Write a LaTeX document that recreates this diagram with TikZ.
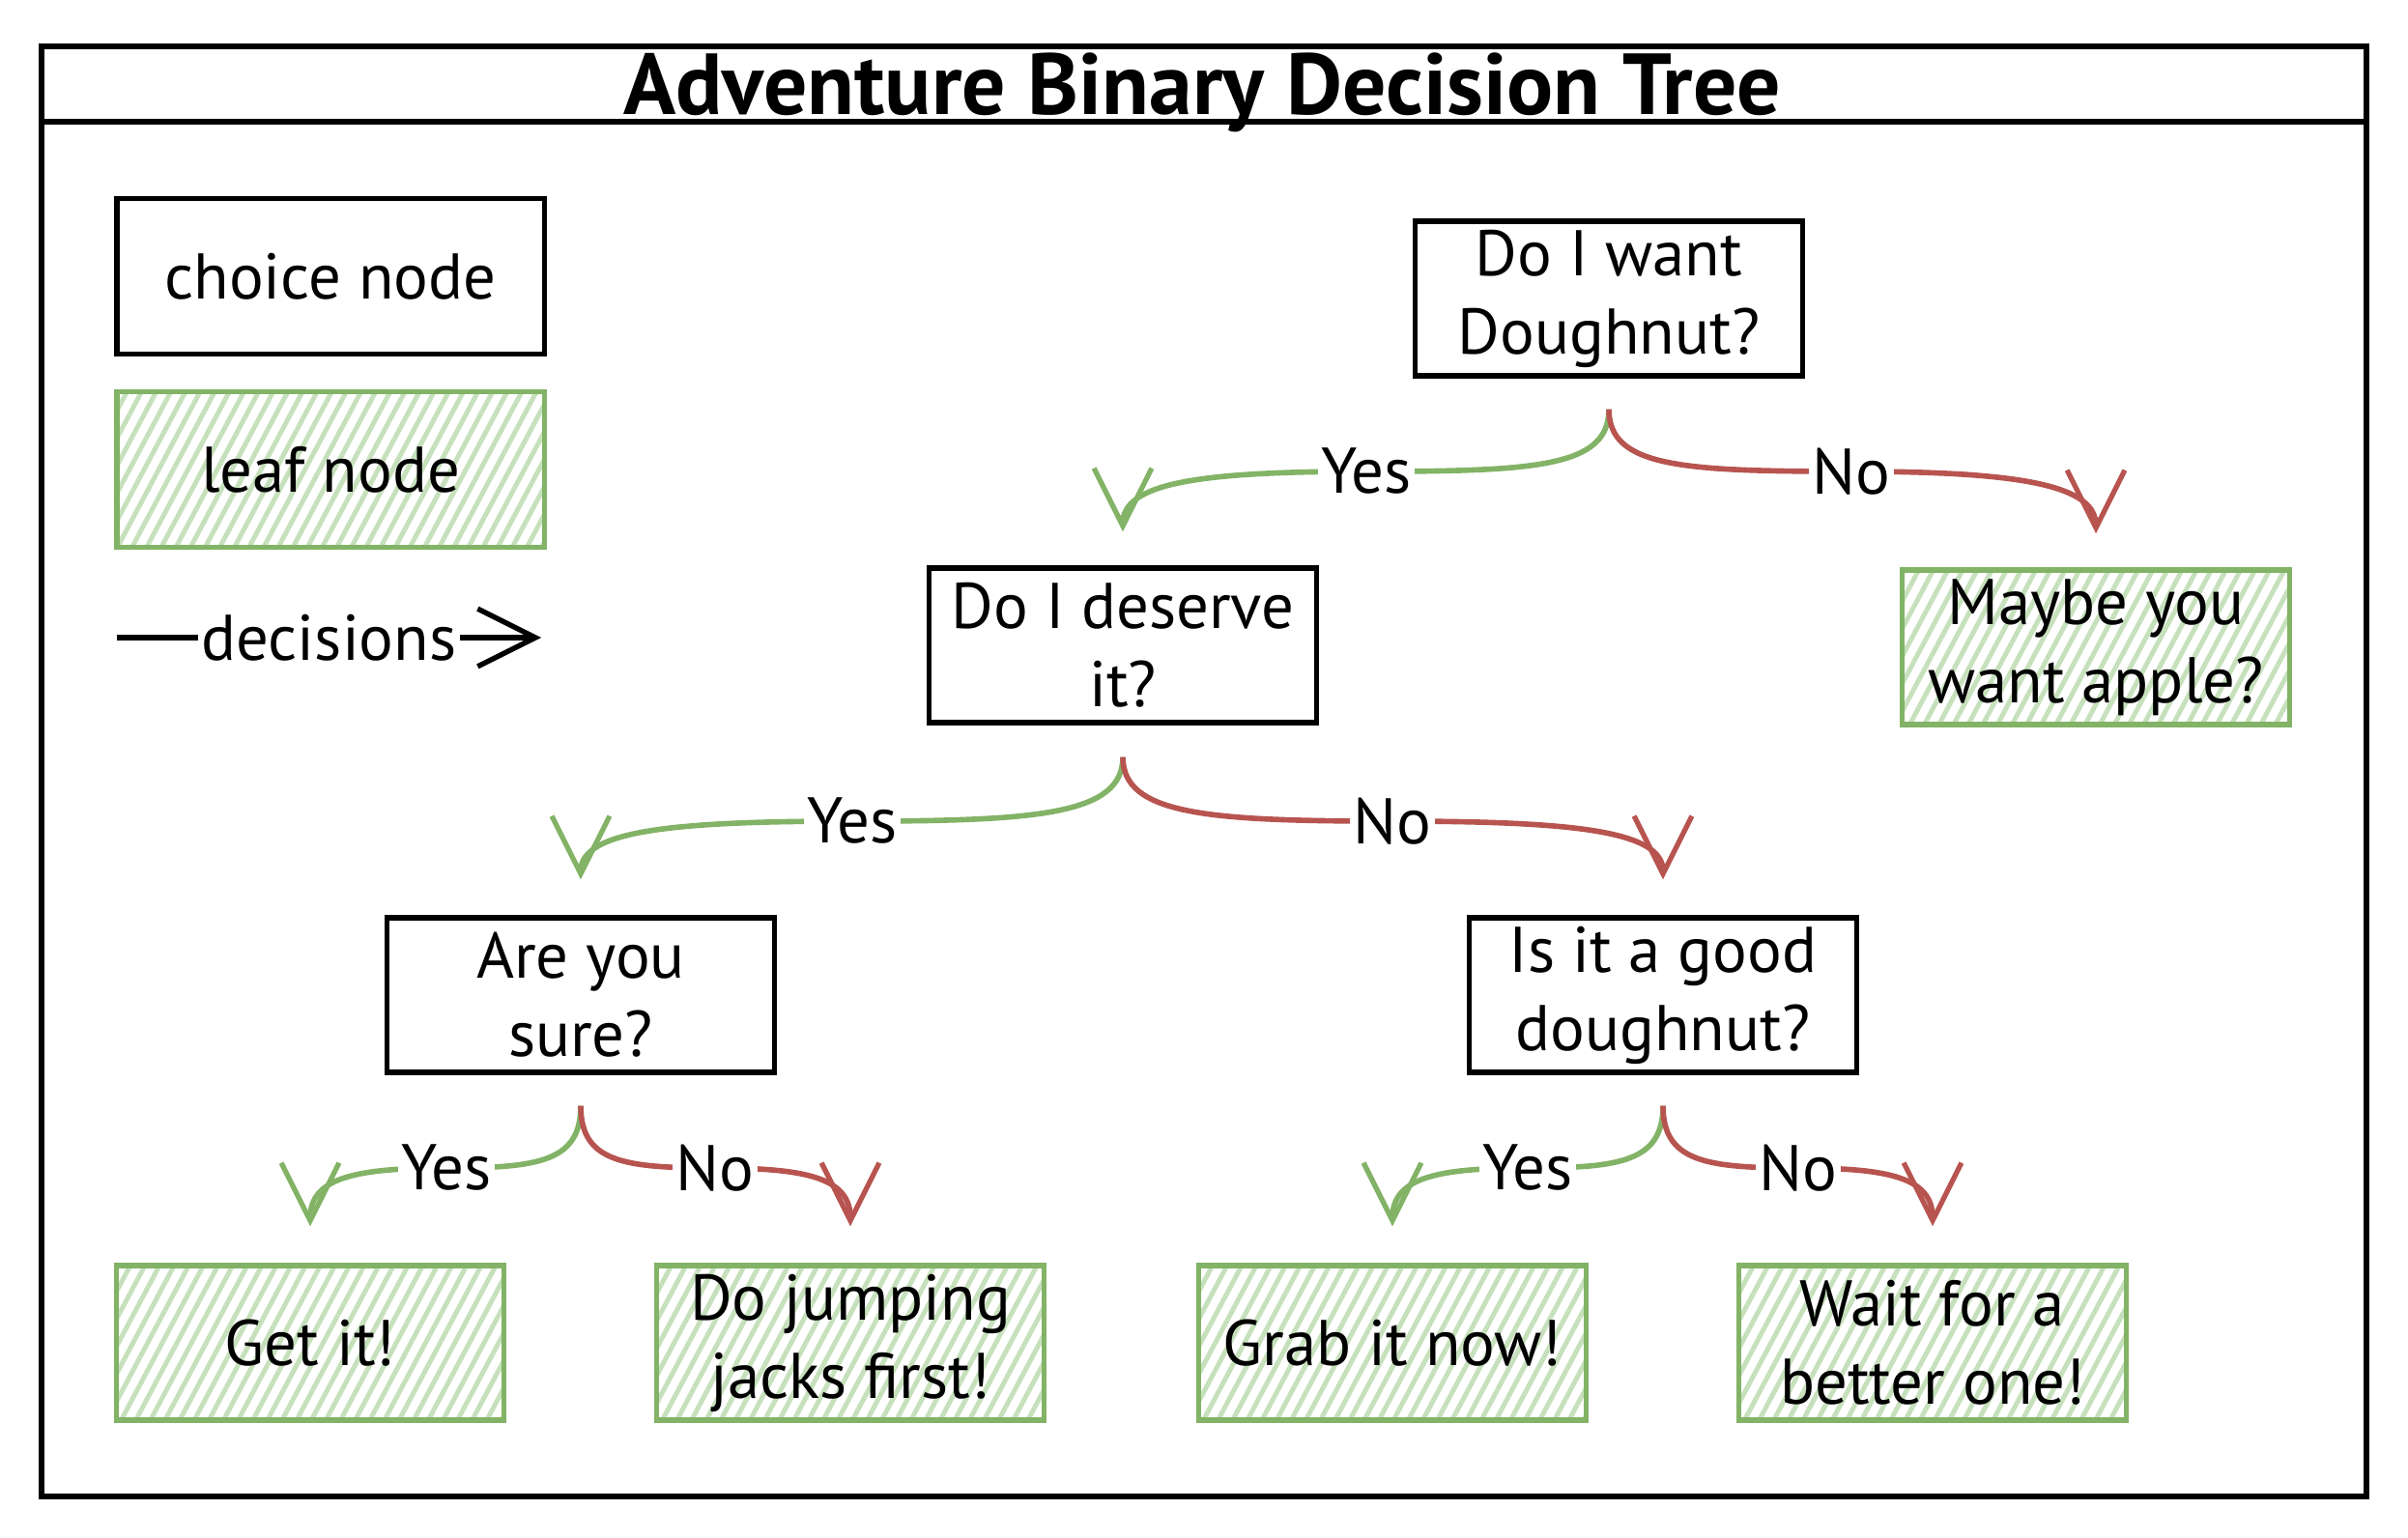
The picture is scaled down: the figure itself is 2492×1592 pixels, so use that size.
\documentclass[tikz,border=0pt]{standalone}
\usepackage{fontspec}
\setmainfont{PT Sans}
\usetikzlibrary{arrows.meta,patterns.meta,calc}
\definecolor{gstroke}{HTML}{82B366}
\definecolor{gfill}{HTML}{D5E8D4}
\definecolor{hatchc}{HTML}{C6E0BC}
\definecolor{rstroke}{HTML}{B85450}
\tikzset{
  box/.style={line width=1.5pt, minimum width=4.01cm, minimum height=1.6cm,
    align=center, inner sep=2pt, font=\fontsize{19}{23}\selectfont},
  choicebox/.style={box, draw=black},
  leafbox/.style={box, draw=gstroke,
    pattern={Lines[angle=62,distance=3.8pt,line width=1.4pt]}, pattern color=hatchc},
  lbl/.style={fill=white, inner sep=1pt, font=\fontsize{19}{23}\selectfont},
  tipbarb/.style={-{Straight Barb[length=17pt,width=17pt,line width=1.5pt]}},
  yesarrow/.style={draw=gstroke, line width=1.6pt, tipbarb},
  noarrow/.style={draw=rstroke, line width=1.6pt, tipbarb},
  legarrow/.style={draw=black, line width=1.6pt, tipbarb},
}
\begin{document}
\begin{tikzpicture}[x=0.01cm,y=-0.01cm]
\useasboundingbox (0,0) rectangle (2492,1592);
% frame
\draw[line width=1.6pt] (43,48) rectangle (2449,1549);
\coordinate (tl) at (43,126);
\coordinate (tr) at (2449,126);
\draw[line width=1.6pt] (tl) -- (tr);
\node[anchor=base, font=\fontsize{25.5}{29}\selectfont\bfseries, inner sep=0pt] (title) at (1244,119) {Adventure Binary Decision Tree};

% legend
\node[choicebox, minimum width=4.42cm, minimum height=1.61cm] (legc) at (342,286) {choice node};
\node[leafbox, minimum width=4.42cm, minimum height=1.61cm] (legl) at (342,486) {leaf node};
\coordinate (la) at (121,660);
\coordinate (lb) at (560,660);
\draw[legarrow] (la) -- node[lbl] (legt) {decisions} (lb);

% nodes
\node[choicebox] (root) at (1665,309) {Do I want\\Doughnut?};
\node[choicebox] (des) at (1162,668) {Do I deserve\\it?};
\node[leafbox] (apple) at (2169,670) {Maybe you\\want apple?};
\node[choicebox] (sure) at (601,1030) {Are you\\sure?};
\node[choicebox] (good) at (1721,1030) {Is it a good\\doughnut?};
\node[leafbox] (getit) at (321,1390) {Get it!};
\node[leafbox] (jump) at (880,1390) {Do jumping\\jacks first!};
\node[leafbox] (grab) at (1441,1390) {Grab it now!};
\node[leafbox] (wait) at (2000,1390) {Wait for a\\better one!};

% branch points
\coordinate (r0) at ($(root.south)+(0,32)$);
\coordinate (r1) at ($(des.north)+(0,-35)$);
\coordinate (r2) at ($(apple.north)+(0,-35)$);
\coordinate (ry) at (1414,488);
\coordinate (rn) at (1916,488);

\coordinate (d0) at ($(des.south)+(0,33)$);
\coordinate (d1) at ($(sure.north)+(0,-37)$);
\coordinate (d2) at ($(good.north)+(0,-37)$);
\coordinate (dy) at (882,850);
\coordinate (dn) at (1441,850);

\coordinate (s0) at ($(sure.south)+(0,32)$);
\coordinate (s1) at ($(getit.north)+(0,-38)$);
\coordinate (s2) at ($(jump.north)+(0,-38)$);
\coordinate (sy) at (462,1209);
\coordinate (sn) at (740,1209);

\coordinate (g0) at ($(good.south)+(0,32)$);
\coordinate (g1) at ($(grab.north)+(0,-38)$);
\coordinate (g2) at ($(wait.north)+(0,-38)$);
\coordinate (gy) at (1581,1209);
\coordinate (gn) at (1861,1209);

% connectors
\draw[yesarrow] (r0) .. controls +(0,60) and +(175,0) .. (ry) .. controls +(-175,0) and +(0,-50) .. (r1);
\draw[noarrow] (r0) .. controls +(0,60) and +(-175,0) .. (rn) .. controls +(175,0) and +(0,-50) .. (r2);
\draw[yesarrow] (d0) .. controls +(0,60) and +(190,0) .. (dy) .. controls +(-190,0) and +(0,-50) .. (d1);
\draw[noarrow] (d0) .. controls +(0,60) and +(-190,0) .. (dn) .. controls +(190,0) and +(0,-50) .. (d2);
\draw[yesarrow] (s0) .. controls +(0,58) and +(95,0) .. (sy) .. controls +(-95,0) and +(0,-50) .. (s1);
\draw[noarrow] (s0) .. controls +(0,58) and +(-95,0) .. (sn) .. controls +(95,0) and +(0,-50) .. (s2);
\draw[yesarrow] (g0) .. controls +(0,58) and +(95,0) .. (gy) .. controls +(-95,0) and +(0,-50) .. (g1);
\draw[noarrow] (g0) .. controls +(0,58) and +(-95,0) .. (gn) .. controls +(95,0) and +(0,-50) .. (g2);

% labels
\node[lbl] (lry) at (ry) {Yes};
\node[lbl] (lrn) at (rn) {No};
\node[lbl] (ldy) at (dy) {Yes};
\node[lbl] (ldn) at (dn) {No};
\node[lbl] (lsy) at (sy) {Yes};
\node[lbl] (lsn) at (sn) {No};
\node[lbl] (lgy) at (gy) {Yes};
\node[lbl] (lgn) at (gn) {No};
\end{tikzpicture}
\end{document}
